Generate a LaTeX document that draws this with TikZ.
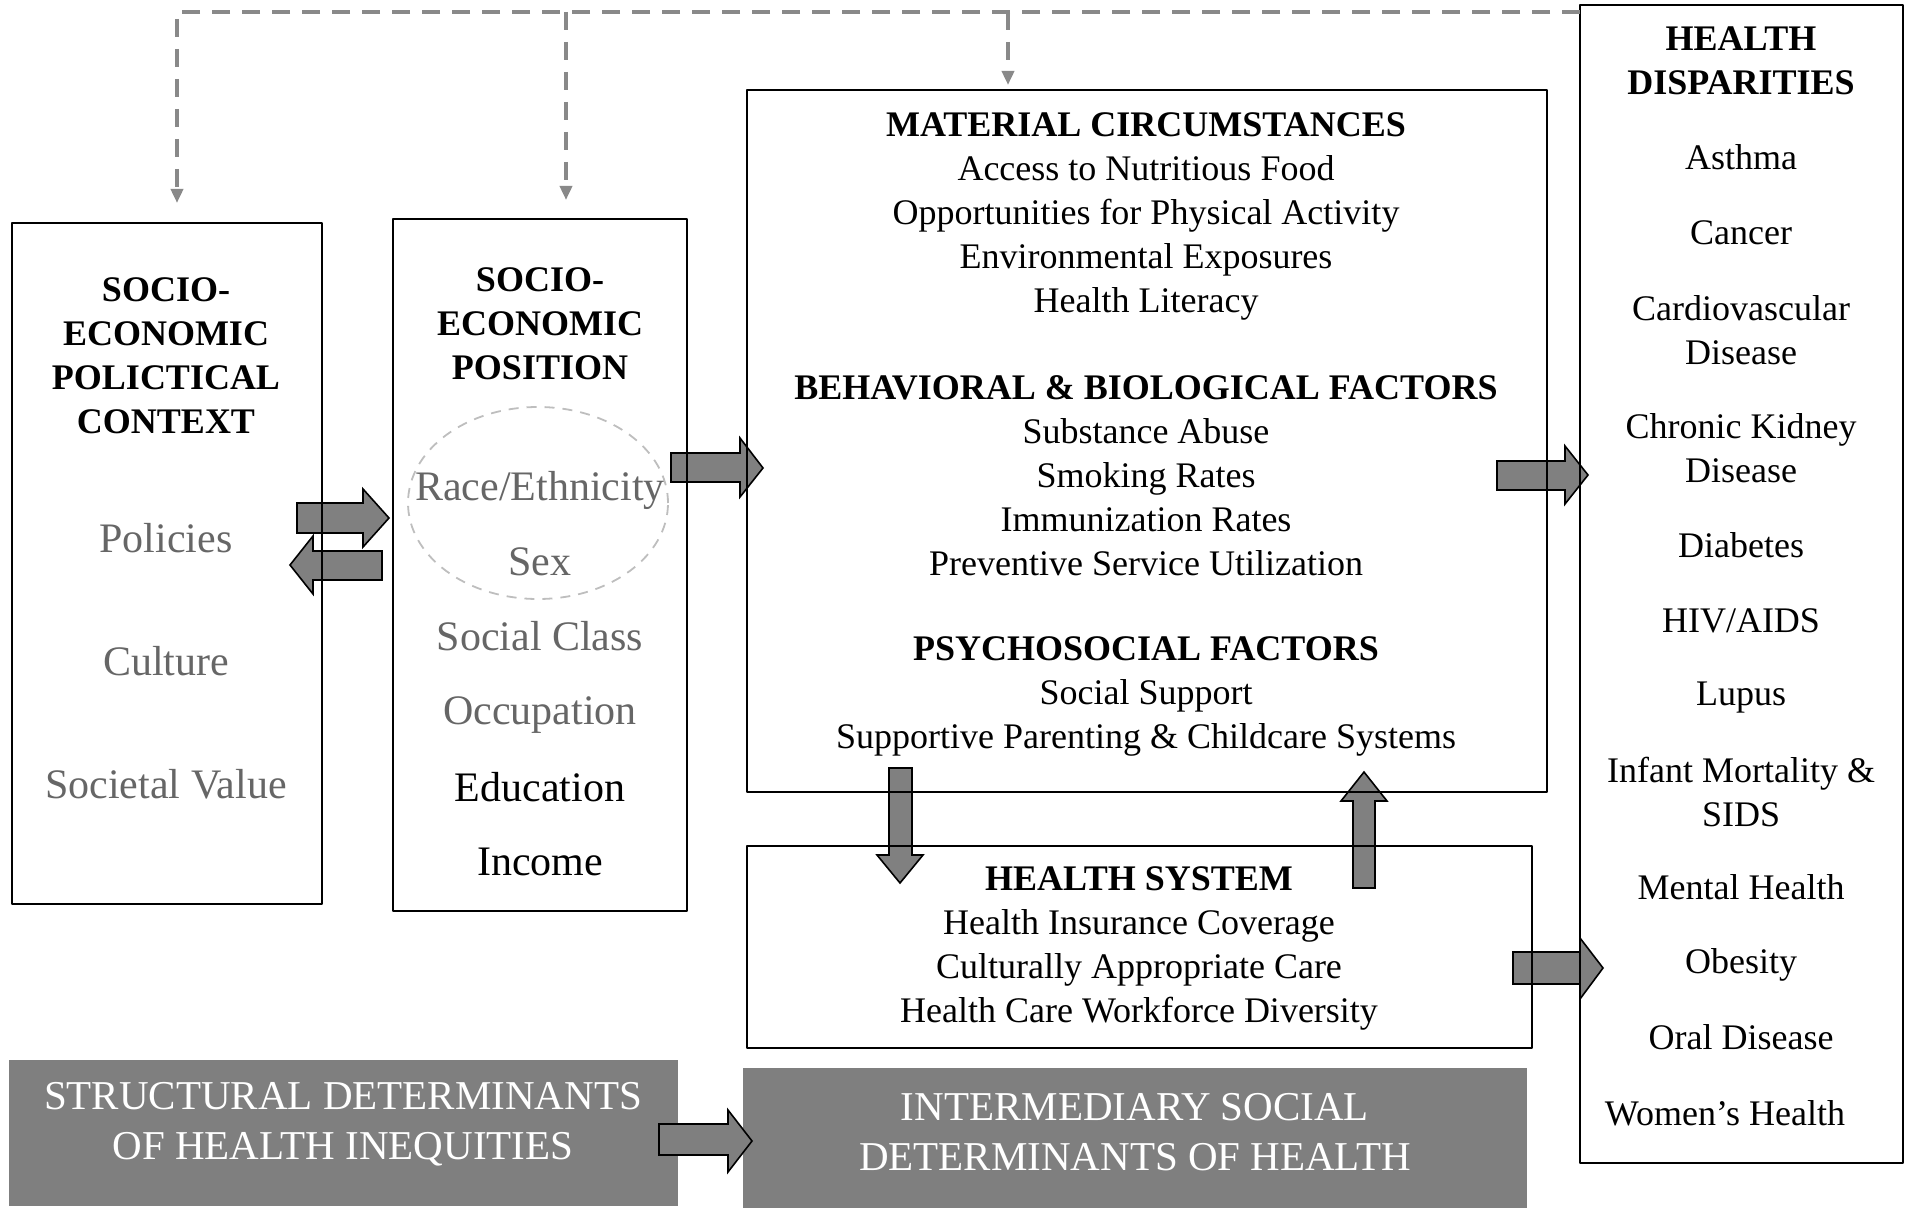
\documentclass[tikz,border=0pt]{standalone}
\usepackage{fontspec}
\setmainfont{Liberation Serif}
\usetikzlibrary{arrows.meta}
\usetikzlibrary{shapes.geometric, fit}

\definecolor{bandgray}{RGB}{127,127,127}
\definecolor{arrowgray}{RGB}{128,128,128}
\definecolor{itemgray}{RGB}{102,102,102}
\definecolor{dashgray}{RGB}{137,137,137}
\definecolor{ringgray}{RGB}{190,190,190}

\tikzset{
  box/.style={draw=black,line width=1pt,inner sep=0pt},
  band/.style={fill=bandgray,draw=none,inner sep=0pt},
  hdr/.style={font=\bfseries\fontsize{18}{22}\selectfont,align=center,inner sep=0pt},
  txt/.style={font=\fontsize{18}{22}\selectfont,align=center,inner sep=0pt},
  sepitem/.style={font=\fontsize{21}{25}\selectfont,inner sep=0pt},
  bandtxt/.style={text=white,font=\fontsize{20.5}{25}\selectfont,align=center,inner sep=0pt},
  feedback/.style={draw=dashgray,line width=2pt,dash pattern=on 9pt off 6pt,-{Triangle[length=7pt,width=6pt]}},
  blockarrow/.style={fill=arrowgray,draw=black,line width=0.8pt,line join=miter},
}

\begin{document}
\begin{tikzpicture}[x=0.5pt,y=-0.5pt,line join=bevel,]
%%
\useasboundingbox (0,0) rectangle (1910,1208);
% block arrows (boxes drawn over them)
\draw [blockarrow] (297,503) -- (363,503) -- (363,489) -- (389,518) -- (363,547) -- (363,533) -- (297,533) -- cycle;
\draw [blockarrow] (382,551) -- (313,551) -- (313,536) -- (290,565) -- (313,594) -- (313,580) -- (382,580) -- cycle;
\draw [blockarrow] (671,453) -- (740,453) -- (740,438) -- (763,468) -- (740,497) -- (740,482) -- (671,482) -- cycle;
\draw [blockarrow] (1497,461) -- (1565,461) -- (1565,446) -- (1588,475) -- (1565,504) -- (1565,490) -- (1497,490) -- cycle;
\draw [blockarrow] (1513,952) -- (1580,952) -- (1580,938) -- (1603,968) -- (1580,999) -- (1580,984) -- (1513,984) -- cycle;
\draw [blockarrow] (889,768) -- (912,768) -- (912,855) -- (923,855) -- (900,883) -- (877,855) -- (889,855) -- cycle;
\draw [blockarrow] (1353,888) -- (1375,888) -- (1375,801) -- (1387,801) -- (1364,772) -- (1341,801) -- (1353,801) -- cycle;
%
\node (box_ctx) [box,fit={(12,223) (322,904)}] {};
\node (box_pos) [box,fit={(393,219) (687,911)}] {};
\node (box_mat) [box,fit={(747,90) (1547,792)}] {};
\node (box_hsys) [box,fit={(747,846) (1532,1048)}] {};
\node (box_disp) [box,fit={(1580,5) (1903,1163)}] {};
\node (band_struct) [band,fit={(9,1060) (678,1206)}] {};
\node (band_inter) [band,fit={(743,1068) (1527,1208)}] {};
\draw [blockarrow,fill=bandgray] (659,1124) -- (728,1124) -- (728,1110) -- (752,1141) -- (728,1172) -- (728,1155) -- (659,1155) -- cycle;
\node (ring) at (538,503) [draw=ringgray,line width=0.9pt,dash pattern=on 5pt off 4pt,ellipse,minimum width=130pt,minimum height=96pt] {};
%
\coordinate (fb_start) at (1580,12);
\coordinate (fb_ctx) at (177,203);
\coordinate (fb_pos) at (566,200);
\coordinate (fb_mat) at (1008,85);
\draw [feedback] (fb_start) -| (fb_ctx);
\draw [feedback] (fb_pos |- fb_start) -- (fb_pos);
\draw [feedback] (fb_mat |- fb_start) -- (fb_mat);
%
\node (ctx_hd) at (166,356) [hdr] {SOCIO-\\ECONOMIC\\POLICTICAL\\CONTEXT};
\node (ctx_0) at (166,538) [sepitem,text=itemgray] {Policies};
\node (ctx_1) at (166,661) [sepitem,text=itemgray] {Culture};
\node (ctx_2) at (166,784) [sepitem,text=itemgray] {Societal Value};
%
\node (pos_hd) at (540,324) [hdr] {SOCIO-\\ECONOMIC\\POSITION};
\node (pos_0) at (540,490) [sepitem,text=itemgray] {Race/Ethnicity};
\node (pos_1) at (540,562) [sepitem,text=itemgray] {Sex};
\node (pos_2) at (540,636) [sepitem,text=itemgray] {Social Class};
\node (pos_3) at (540,715) [sepitem,text=itemgray] {Occupation};
\node (pos_4) at (540,787) [sepitem] {Education};
\node (pos_5) at (540,862) [sepitem] {Income};
%
\node (mat_0) at (1146,216) [txt] {\textbf{MATERIAL CIRCUMSTANCES}\\Access to Nutritious Food\\Opportunities for Physical Activity\\Environmental Exposures\\Health Literacy};
\node (mat_1) at (1146,476) [txt] {\textbf{BEHAVIORAL \& BIOLOGICAL FACTORS}\\Substance Abuse\\Smoking Rates\\Immunization Rates\\Preventive Service Utilization};
\node (mat_2) at (1146,696) [txt] {\textbf{PSYCHOSOCIAL FACTORS}\\Social Support\\Supportive Parenting \& Childcare Systems};
\node (hsys_0) at (1139,948) [txt] {\textbf{HEALTH SYSTEM}\\Health Insurance Coverage\\Culturally Appropriate Care\\Health Care Workforce Diversity};
%
\node (disp_hd) at (1741,61) [hdr] {HEALTH\\DISPARITIES};
\node (disp_0) at (1741,157) [txt] {Asthma};
\node (disp_1) at (1741,233) [txt] {Cancer};
\node (disp_2) at (1741,330) [txt] {Cardiovascular\\Disease};
\node (disp_3) at (1741,448) [txt] {Chronic Kidney\\Disease};
\node (disp_4) at (1741,545) [txt] {Diabetes};
\node (disp_5) at (1741,621) [txt] {HIV/AIDS};
\node (disp_6) at (1741,698) [txt] {Lupus};
\node (disp_7) at (1741,792) [txt] {Infant Mortality \&\\SIDS};
\node (disp_8) at (1741,887) [txt] {Mental Health};
\node (disp_9) at (1741,965) [txt] {Obesity};
\node (disp_10) at (1741,1037) [txt] {Oral Disease};
\node (disp_11) at (1725,1113) [txt] {Women’s Health};
%
\node (struct_txt) at (343,1124) [bandtxt] {STRUCTURAL DETERMINANTS\\OF HEALTH INEQUITIES};
\node (inter_txt) at (1135,1132) [bandtxt] {INTERMEDIARY SOCIAL\\DETERMINANTS OF HEALTH};
%
\end{tikzpicture}
\end{document}
